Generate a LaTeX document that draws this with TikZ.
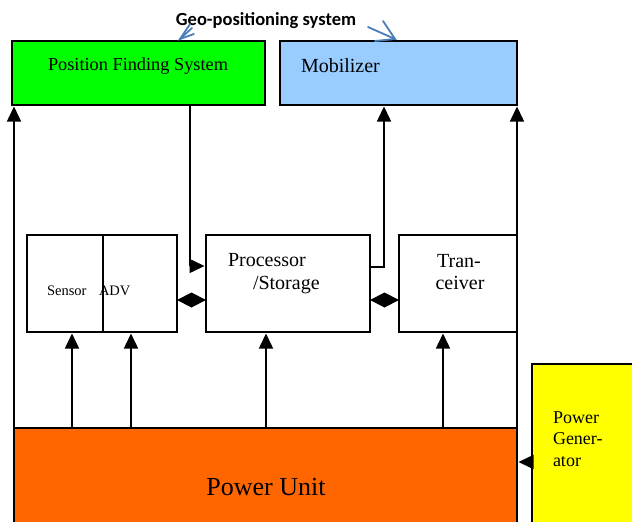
\documentclass[tikz,border=0pt]{standalone}
\usepackage{fontspec}
\setmainfont{Liberation Serif}
\newfontfamily\calib{Carlito}
\usetikzlibrary{arrows.meta,calc}
\definecolor{pfsgreen}{HTML}{00FF00}
\definecolor{mobblue}{HTML}{99CCFF}
\definecolor{puorange}{HTML}{FF6600}
\definecolor{genyellow}{HTML}{FFFF00}
\definecolor{chevblue}{HTML}{4A7EBB}
\tikzset{
  box/.style={draw=black, line width=1.8pt, rectangle, anchor=north west, inner sep=0pt, outer sep=0pt},
  arr/.style={draw=black, line width=1.5pt, shorten >=1.5pt, -{Triangle[length=15pt,width=14pt]}},
  plain/.style={draw=black, line width=1.5pt},
  chev/.style={draw=chevblue, line width=1.8pt, line cap=round},
  txt/.style={inner sep=0pt, outer sep=0pt},
}
\begin{document}
\begin{tikzpicture}[x=1pt,y=-1pt]
\clip (0,0) rectangle (632,522);
\fill[white] (0,0) rectangle (632,522);
% top boxes
\node[box, fill=pfsgreen, minimum width=253pt, minimum height=64pt] (pfs) at (12,41) {};
\node[box, fill=mobblue, minimum width=237pt, minimum height=64pt] (mob) at (280,41) {};
% middle boxes
\node[box, fill=white, minimum width=150pt, minimum height=97pt] (sens) at (27,235) {};
\node[box, fill=white, minimum width=164pt, minimum height=97pt] (proc) at (206,235) {};
\node[box, fill=white, minimum width=118pt, minimum height=97pt] (trans) at (399,235) {};
% bottom boxes
\node[box, fill=puorange, minimum width=503pt, minimum height=140pt] (pu) at (14,428) {};
\node[box, fill=genyellow, minimum width=140pt, minimum height=200pt] (gen) at (532,364) {};
% texts
\node[txt, anchor=base] (geo) at (266,25) {\calib\bfseries\fontsize{18.5}{22}\selectfont Geo-positioning system};
\node[txt, anchor=base] (pfst) at (138,70) {\fontsize{18.3}{21}\selectfont Position Finding System};
\node[txt, anchor=base west] (mobt) at (301,72) {\fontsize{20}{24}\selectfont Mobilizer};
\node[txt, anchor=base west] (proct1) at (228,266) {\fontsize{20}{24}\selectfont Processor};
\node[txt, anchor=base west] (proct2) at (253,289) {\fontsize{20}{24}\selectfont /Storage};
\node[txt, anchor=base] (trant1) at (459,267) {\fontsize{20}{24}\selectfont Tran-};
\node[txt, anchor=base] (trant2) at (460,289) {\fontsize{20}{24}\selectfont ceiver};
\node[txt, anchor=base west] (senst) at (47,295) {\fontsize{14.5}{17}\selectfont Sensor};
\node[txt, anchor=base west] (advt) at (99,295) {\fontsize{14.5}{17}\selectfont ADV};
\node[txt, anchor=base west] (gent1) at (553,423) {\fontsize{18}{21}\selectfont Power};
\node[txt, anchor=base west] (gent2) at (553,444) {\fontsize{18}{21}\selectfont Gener-};
\node[txt, anchor=base west] (gent3) at (553,466) {\fontsize{18}{21}\selectfont ator};
\node[txt, anchor=base] (put) at (266,495) {\fontsize{26}{30}\selectfont Power Unit};
% divider in sensor box
\coordinate (d1) at ([xshift=76pt]sens.north west);
\draw[plain] (d1) -- (d1 |- sens.south);
% long side lines
\draw[arr] (pu.north west) -- (pu.north west |- pfs.south);
\draw[arr] (pu.north east) -- (pu.north east |- mob.south);
% pfs -> processor
\draw[arr] ([xshift=178pt]pfs.south west) |- ([yshift=17.5pt]proc.west);
% processor -> mobilizer
\draw[arr] ([yshift=16.5pt]proc.east) -| ([xshift=104pt]mob.south west);
% diamonds (bidirectional links)
\coordinate (a1) at ([yshift=-16.5pt]sens.east);
\coordinate (b1) at ([yshift=-16.5pt]proc.west);
\coordinate (m1) at ($(a1)!0.5!(b1)$);
\fill[black] (a1) -- ($(m1)+(0,-7.5)$) -- (b1) -- ($(m1)+(0,7.5)$) -- cycle;
\coordinate (a2) at ([yshift=-16.5pt]proc.east);
\coordinate (b2) at ([yshift=-16.5pt]trans.west);
\coordinate (m2) at ($(a2)!0.5!(b2)$);
\fill[black] (a2) -- ($(m2)+(0,-7.5)$) -- (b2) -- ($(m2)+(0,7.5)$) -- cycle;
% up arrows from power unit
\coordinate (s1) at ([xshift=45pt]sens.south west);
\coordinate (s2) at ([xshift=104pt]sens.south west);
\coordinate (s3) at ([xshift=60pt]proc.south west);
\coordinate (s4) at ([xshift=44pt]trans.south west);
\draw[arr] (s1 |- pu.north) -- (s1);
\draw[arr] (s2 |- pu.north) -- (s2);
\draw[arr] (s3 |- pu.north) -- (s3);
\draw[arr] (s4 |- pu.north) -- (s4);
% generator -> power unit
\coordinate (g1) at ([yshift=-98pt]gen.north west);
\draw[arr] (g1) -- (g1 -| pu.east);
% blue arrow marks
\draw[chev] (190,24) -- (180,39) -- (194,34);
\draw[chev] (180,39) -- (192,28);
\draw[chev] (383,21) -- (395,39) -- (375,41);
\draw[chev] (368,27) -- (395,39);
\end{tikzpicture}
\end{document}
